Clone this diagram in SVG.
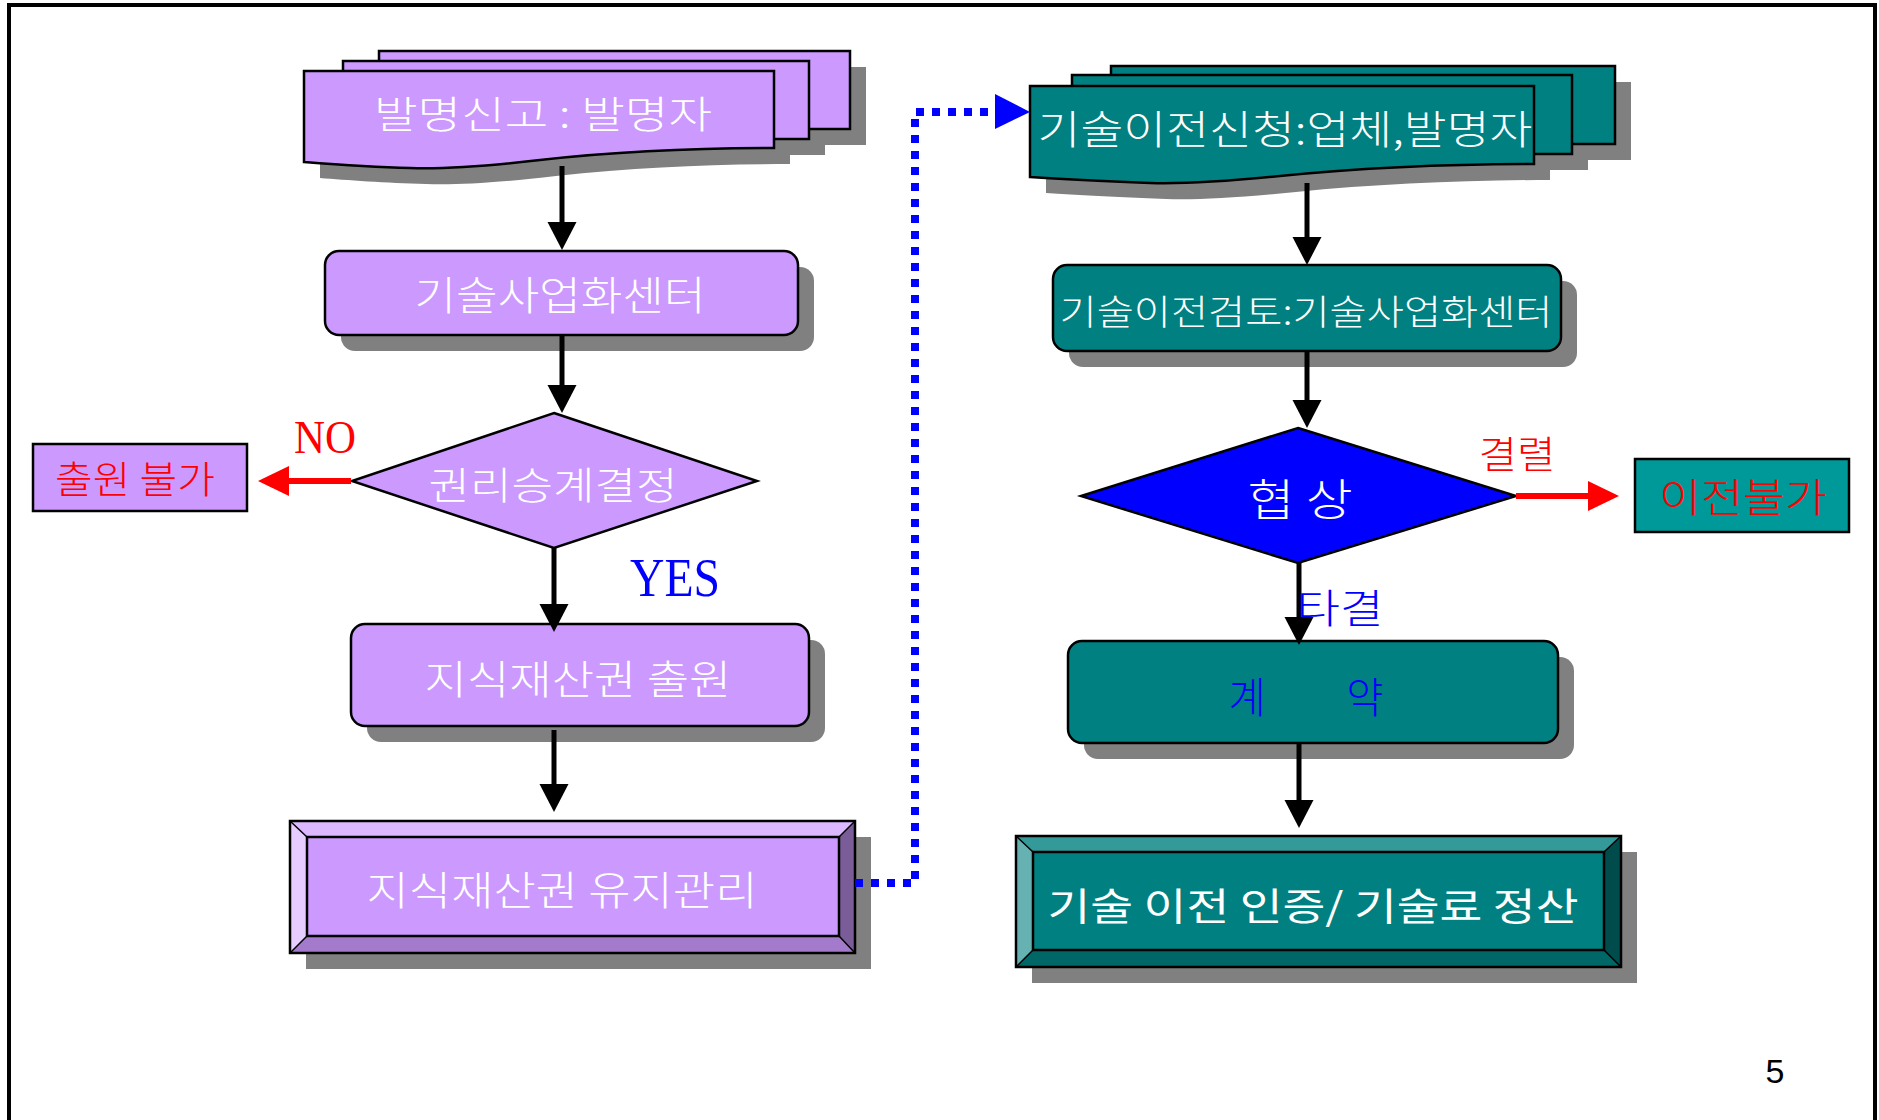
<svg xmlns="http://www.w3.org/2000/svg" width="1879" height="1120" viewBox="0 0 1879 1120">
<style>
.k{font-family:"Noto Sans CJK KR","Noto Sans",sans-serif;font-weight:300;}
.s{font-family:"Liberation Serif",serif;}
.w{fill:#FFFFFF;}
.r{fill:#FF0000;}
.b{fill:#0000FF;}
.pu{fill:#CC99FF;stroke:#000;stroke-width:2.5;}
.te{fill:#008080;stroke:#000;stroke-width:2.5;}
.sh{fill:#808080;}
.ln{stroke:#000;stroke-width:5;fill:none;}
.rl{stroke:#FF0000;stroke-width:6;fill:none;}
</style>
<defs>
<marker id="ah" markerUnits="userSpaceOnUse" markerWidth="30" markerHeight="30" refX="4" refY="14.5" orient="auto">
<path d="M0,0 L28,14.5 L0,29 Z" fill="#000"/>
</marker>
<marker id="ahr" markerUnits="userSpaceOnUse" markerWidth="32" markerHeight="32" refX="4" refY="15" orient="auto">
<path d="M0,0 L31,15 L0,30 Z" fill="#FF0000"/>
</marker>
</defs>
<rect width="1879" height="1120" fill="#FFFFFF"/>
<path d="M9,1120 V5 H1875 V1120" fill="none" stroke="#000" stroke-width="4"/>

<g id="n1">
<rect class="sh" x="395" y="67" width="471" height="78"/>
<rect class="sh" x="359" y="77" width="466" height="78"/>
<path class="sh" transform="translate(16,16)" d="M304,71 H774 V148 C700,148 620,151 540,160 C480,167 440,169 410,168 C370,167 330,164 304,162 Z"/>
<rect class="pu" x="379" y="51" width="471" height="78"/>
<rect class="pu" x="343" y="61" width="466" height="78"/>
<path class="pu" d="M304,71 H774 V148 C700,148 620,151 540,160 C480,167 440,169 410,168 C370,167 330,164 304,162 Z"/>
<text class="k w" x="543" y="111" font-size="38" text-anchor="middle" dominant-baseline="central" textLength="338" lengthAdjust="spacingAndGlyphs">발명신고 : 발명자</text>
</g>

<g id="n2">
<rect class="sh" x="341" y="267" width="473" height="84" rx="14"/>
<rect class="pu" x="325" y="251" width="473" height="84" rx="14"/>
<text class="k w" x="560" y="293" font-size="40" text-anchor="middle" dominant-baseline="central" textLength="291" lengthAdjust="spacingAndGlyphs">기술사업화센터</text>
</g>

<g id="n3">
<polygon class="pu" points="554,413 757,481 554,548 352,481"/>
<text class="k w" x="553" y="482" font-size="38" text-anchor="middle" dominant-baseline="central" textLength="249" lengthAdjust="spacingAndGlyphs">권리승계결정</text>
</g>

<g id="n4">
<rect class="pu" x="33" y="444" width="214" height="67"/>
<text class="k r" x="135" y="476" font-size="38" text-anchor="middle" dominant-baseline="central" textLength="160" lengthAdjust="spacingAndGlyphs">출원 불가</text>
</g>

<g id="n5">
<rect class="sh" x="367" y="640" width="458" height="102" rx="14"/>
<rect class="pu" x="351" y="624" width="458" height="102" rx="14"/>
<text class="k w" x="578" y="677" font-size="40" text-anchor="middle" dominant-baseline="central" textLength="307" lengthAdjust="spacingAndGlyphs">지식재산권 출원</text>
</g>

<g id="n6">
<rect class="sh" x="306" y="837" width="565" height="132"/>
<rect x="290" y="821" width="565" height="132" fill="#CC99FF"/>
<polygon points="290,821 855,821 839,837 307,837" fill="#DBB8FF"/>
<polygon points="290,821 307,837 307,936 290,953" fill="#E6CCFF"/>
<polygon points="855,821 855,953 839,936 839,837" fill="#7A5C99"/>
<polygon points="290,953 307,936 839,936 855,953" fill="#A37ACC"/>
<rect x="290" y="821" width="565" height="132" fill="none" stroke="#000" stroke-width="2.5"/>
<rect x="307" y="837" width="532" height="99" fill="none" stroke="#000" stroke-width="2.5"/>
<path d="M290,821 L307,837 M855,821 L839,837 M290,953 L307,936 M855,953 L839,936" stroke="#000" stroke-width="1.5"/>
<text class="k w" x="562" y="888" font-size="40" text-anchor="middle" dominant-baseline="central" textLength="391" lengthAdjust="spacingAndGlyphs">지식재산권 유지관리</text>
</g>

<g id="n7">
<rect class="sh" x="1127" y="82" width="504" height="78"/>
<rect class="sh" x="1088" y="91" width="500" height="79"/>
<path class="sh" transform="translate(16,16)" d="M1030,86 H1534 V164 C1450,164 1360,168 1280,176 C1220,182 1180,184 1150,183 C1100,181 1060,179 1030,177 Z"/>
<rect class="te" x="1111" y="66" width="504" height="78"/>
<rect class="te" x="1072" y="75" width="500" height="79"/>
<path class="te" d="M1030,86 H1534 V164 C1450,164 1360,168 1280,176 C1220,182 1180,184 1150,183 C1100,181 1060,179 1030,177 Z"/>
<text class="k w" x="1285" y="127" font-size="40" text-anchor="middle" dominant-baseline="central" textLength="495" lengthAdjust="spacingAndGlyphs">기술이전신청:업체,발명자</text>
</g>

<g id="n8">
<rect class="sh" x="1069" y="281" width="508" height="86" rx="14"/>
<rect class="te" x="1053" y="265" width="508" height="86" rx="14"/>
<text class="k w" x="1306" y="309" font-size="35" text-anchor="middle" dominant-baseline="central" textLength="493" lengthAdjust="spacingAndGlyphs">기술이전검토:기술사업화센터</text>
</g>

<g id="n9">
<polygon points="1298,428 1516,496 1298,563 1081,496" fill="#0000FF" stroke="#000" stroke-width="2.5"/>
<text class="k w" x="1300" y="497" font-size="44" text-anchor="middle" dominant-baseline="central" textLength="105" lengthAdjust="spacingAndGlyphs">협 상</text>
</g>

<g id="n10">
<rect x="1635" y="459" width="214" height="73" fill="#009999" stroke="#000" stroke-width="2.5"/>
<text class="k r" x="1743" y="495" font-size="40" text-anchor="middle" dominant-baseline="central" textLength="168" lengthAdjust="spacingAndGlyphs">이전불가</text>
</g>

<g id="n11">
<rect class="sh" x="1084" y="657" width="490" height="102" rx="14"/>
<rect class="te" x="1068" y="641" width="490" height="102" rx="14"/>
<text class="k b" x="1306" y="694" font-size="42" text-anchor="middle" dominant-baseline="central" textLength="155" lengthAdjust="spacingAndGlyphs">계　　약</text>
</g>

<g id="n12">
<rect class="sh" x="1032" y="852" width="605" height="131"/>
<rect x="1016" y="836" width="605" height="131" fill="#008080"/>
<polygon points="1016,836 1621,836 1604,852 1033,852" fill="#339999"/>
<polygon points="1016,836 1033,852 1033,950 1016,967" fill="#66B2B2"/>
<polygon points="1621,836 1621,967 1604,950 1604,852" fill="#004C4C"/>
<polygon points="1016,967 1033,950 1604,950 1621,967" fill="#006666"/>
<rect x="1016" y="836" width="605" height="131" fill="none" stroke="#000" stroke-width="2.5"/>
<rect x="1033" y="852" width="571" height="98" fill="none" stroke="#000" stroke-width="2.5"/>
<path d="M1016,836 L1033,852 M1621,836 L1604,852 M1016,967 L1033,950 M1621,967 L1604,950" stroke="#000" stroke-width="1.5"/>
<text class="k w" x="1313" y="903" font-size="38" style="font-weight:400" text-anchor="middle" dominant-baseline="central" textLength="531" lengthAdjust="spacingAndGlyphs">기술 이전 인증/ 기술료 정산</text>
</g>

<g id="connectors">
<path class="ln" d="M562,166 V226" marker-end="url(#ah)"/>
<path class="ln" d="M562,335 V389" marker-end="url(#ah)"/>
<path class="ln" d="M554,548 V608" marker-end="url(#ah)"/>
<path class="ln" d="M554,730 V788" marker-end="url(#ah)"/>
<path class="rl" d="M351,481 H285" marker-end="url(#ahr)"/>
<path d="M855,883 H915 V112 H995" fill="none" stroke="#0000FF" stroke-width="8" stroke-dasharray="8 8"/>
<polygon points="995,94 1030,112 995,129" fill="#0000FF"/>
<path class="ln" d="M1307,183 V241" marker-end="url(#ah)"/>
<path class="ln" d="M1307,351 V404" marker-end="url(#ah)"/>
<path class="rl" d="M1516,496 H1592" marker-end="url(#ahr)"/>
<path class="ln" d="M1299,563 V621" marker-end="url(#ah)"/>
<path class="ln" d="M1299,743 V804" marker-end="url(#ah)"/>
</g>

<g id="labels">
<text class="s r" x="325" y="453" font-size="46" text-anchor="middle" textLength="62" lengthAdjust="spacingAndGlyphs">NO</text>
<text class="s b" x="675" y="596" font-size="54" text-anchor="middle" textLength="90" lengthAdjust="spacingAndGlyphs">YES</text>
<text class="k r" x="1517" y="451" font-size="38" text-anchor="middle" dominant-baseline="central" textLength="77" lengthAdjust="spacingAndGlyphs">결렬</text>
<text class="k b" x="1340" y="606" font-size="40" text-anchor="middle" dominant-baseline="central" textLength="87" lengthAdjust="spacingAndGlyphs">타결</text>
<text x="1775" y="1083" font-family="Liberation Sans, sans-serif" font-size="34" text-anchor="middle">5</text>
</g>
</svg>
